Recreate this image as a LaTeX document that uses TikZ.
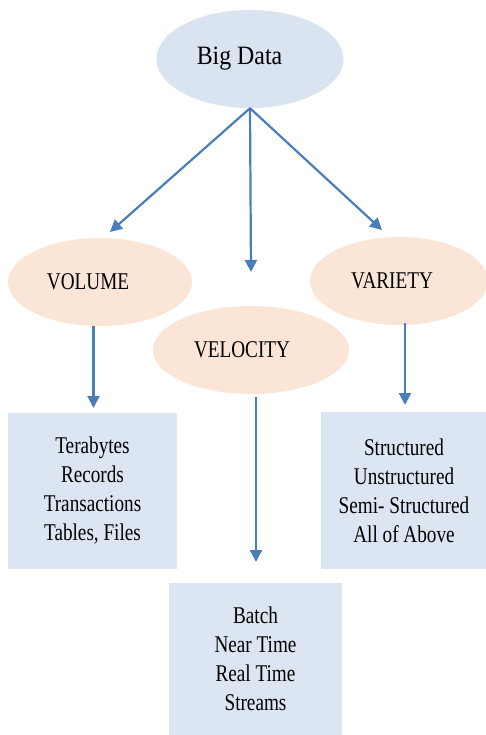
\documentclass[tikz,border=0pt]{standalone}
\usepackage{fontspec}
\setmainfont{Liberation Serif}[FakeStretch=0.8]
\newfontfamily\titlefont{Liberation Serif}[FakeStretch=0.9]
\usetikzlibrary{shapes.geometric,arrows.meta}
\definecolor{topblue}{HTML}{DAE3F0}
\definecolor{vpeach}{HTML}{FBE5D6}
\definecolor{boxblue}{HTML}{DCE6F2}
\definecolor{linkblue}{HTML}{4A7EBB}
\begin{document}
\begin{tikzpicture}[x=1pt,y=-1pt,
  oval/.style={ellipse, inner sep=0pt, fill=vpeach, font=\fontsize{24}{28}\selectfont},
  listbox/.style={rectangle, inner sep=0pt, fill=boxblue, align=center,
    font=\fontsize{24}{29}\selectfont},
  link/.style={draw=linkblue, line width=2.2pt, -{Triangle[length=12pt,width=12pt]}}]
\useasboundingbox (0,0) rectangle (486,735);

% root
\node[ellipse, fill=topblue, minimum width=187pt, minimum height=98pt, inner sep=0pt,
  font=\titlefont\fontsize{26.5}{32}\selectfont] (bd) at (250,59) {Big Data\hspace*{21pt}};

% the three V's
\node[oval, minimum width=184pt, minimum height=88pt] (vol) at (100,282) {VOLUME\hspace*{24pt}};
\node[oval, minimum width=196pt, minimum height=88pt] (vel) at (251,350) {VELOCITY\hspace*{18pt}};
\node[oval, minimum width=178pt, minimum height=88pt] (var) at (399,281) {VARIETY\hspace*{14pt}};

% lists
\node[listbox, minimum width=169pt, minimum height=156pt] (volbox) at (92.5,491)
  {Terabytes\\Records\\Transactions\\Tables, Files};
\node[listbox, minimum width=166pt, minimum height=157pt] (varbox) at (404,490.5)
  {Structured\\Unstructured\\Semi- Structured\\All of Above};
\node[listbox, minimum width=173pt, minimum height=152pt] (velbox) at (255.5,659)
  {Batch\\Near Time\\Real Time\\Streams};

% arrow ends
\coordinate (tvol) at (110,232);
\coordinate (tvel) at (251,272);
\coordinate (tvar) at (382,230);
\coordinate (svol) at (93.5,326);
\coordinate (evol) at (93.5,408);
\coordinate (svar) at (405,323);
\coordinate (evar) at (405,405);
\coordinate (svel) at (256,397);
\coordinate (evel) at (256,562);

\draw[link] (bd.south) -- (tvol);
\draw[link] (bd.south) -- (tvel);
\draw[link] (bd.south) -- (tvar);
\draw[link] (svol) -- (evol);
\draw[link] (svar) -- (evar);
\draw[link] (svel) -- (evel);
\end{tikzpicture}
\end{document}
